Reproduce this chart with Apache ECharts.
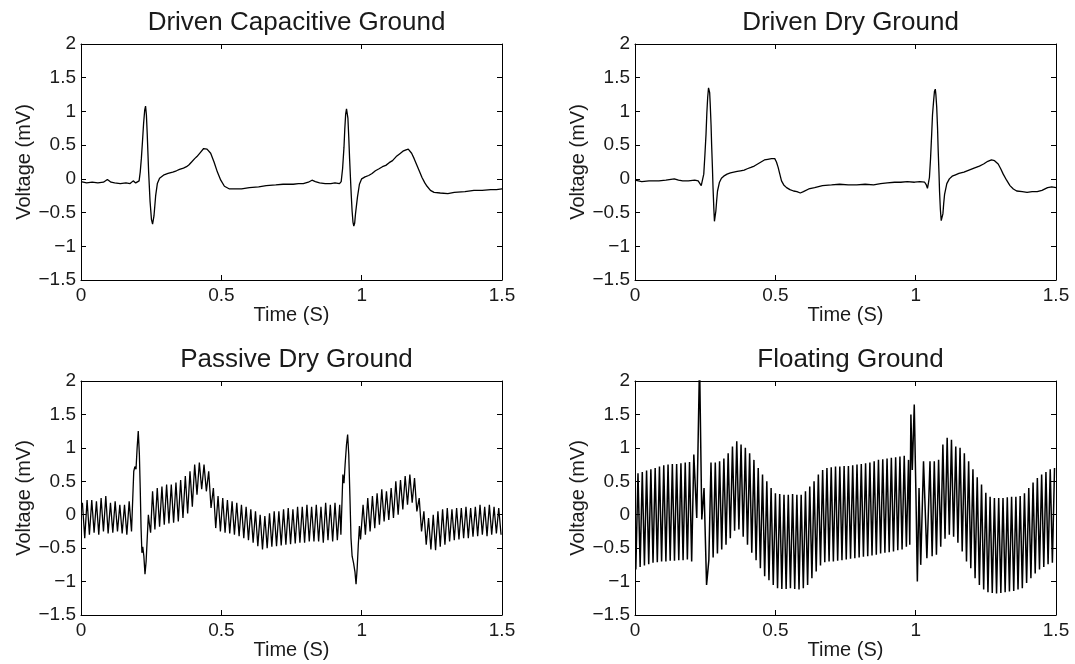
<!DOCTYPE html>
<html>
<head>
<meta charset="utf-8">
<script src="https://cdn.jsdelivr.net/npm/echarts@6/dist/echarts.min.js"></script>
<style>
html, body { margin: 0; padding: 0; background: #fff; }
#chart { width: 1075px; height: 664px; }
</style>
</head>
<body>
<div id="chart"></div>
<script>
// x ticks and y ticks shared by all four panels
var timeTicks = [0, 0.5, 1, 1.5]
var voltTicks = [-1.5, -1, -0.5, 0, 0.5, 1, 1.5, 2]

// Driven Capacitive Ground, [time s, voltage mV]
var drivenCap = [
  [0,-0.04],[0.02,-0.06],[0.04,-0.05],[0.06,-0.06],[0.08,-0.05],[0.094,-0.01],[0.107,-0.05],[0.12,-0.06],
  [0.14,-0.07],[0.16,-0.06],[0.175,-0.07],[0.186,-0.03],[0.195,-0.06],[0.202,-0.07],[0.207,-0.03],[0.211,0.10],
  [0.215,0.30],[0.219,0.55],[0.223,0.82],[0.227,1.02],[0.230,1.08],[0.233,0.95],[0.236,0.66],[0.241,0.10],
  [0.246,-0.33],[0.251,-0.60],[0.255,-0.67],[0.260,-0.55],[0.266,-0.25],[0.272,-0.07],[0.280,0.01],[0.296,0.06],
  [0.31,0.08],[0.327,0.10],[0.34,0.12],[0.351,0.14],[0.365,0.16],[0.376,0.18],[0.385,0.21],[0.394,0.25],
  [0.405,0.30],[0.413,0.33],[0.425,0.39],[0.437,0.45],[0.449,0.44],[0.455,0.43],[0.462,0.38],[0.474,0.25],
  [0.486,0.10],[0.498,-0.02],[0.511,-0.11],[0.529,-0.15],[0.55,-0.15],[0.572,-0.15],[0.6,-0.13],[0.633,-0.12],
  [0.66,-0.10],[0.694,-0.09],[0.72,-0.08],[0.756,-0.08],[0.775,-0.07],[0.792,-0.07],[0.81,-0.05],[0.823,-0.02],
  [0.835,-0.04],[0.85,-0.06],[0.87,-0.07],[0.89,-0.07],[0.905,-0.06],[0.921,-0.07],[0.927,-0.04],[0.932,0.15],
  [0.937,0.47],[0.940,0.75],[0.943,0.96],[0.946,1.04],[0.948,1.05],[0.951,0.90],[0.954,0.62],[0.957,0.30],
  [0.960,0.02],[0.963,-0.25],[0.966,-0.48],[0.969,-0.64],[0.972,-0.70],[0.975,-0.66],[0.978,-0.52],[0.985,-0.27],
  [0.992,-0.08],[1.0,0.0],[1.012,0.03],[1.025,0.05],[1.037,0.08],[1.049,0.12],[1.062,0.15],[1.074,0.18],
  [1.086,0.20],[1.098,0.24],[1.11,0.27],[1.123,0.33],[1.135,0.37],[1.147,0.41],[1.158,0.43],[1.166,0.44],
  [1.172,0.42],[1.178,0.38],[1.187,0.30],[1.196,0.21],[1.205,0.12],[1.215,0.02],[1.225,-0.06],[1.233,-0.11],
  [1.245,-0.17],[1.258,-0.20],[1.28,-0.21],[1.307,-0.22],[1.33,-0.20],[1.368,-0.19],[1.4,-0.17],[1.429,-0.17],
  [1.46,-0.16],[1.48,-0.16],[1.5,-0.15]
]

// Driven Dry Ground
var drivenDry = [
  [0,-0.02],[0.024,-0.04],[0.05,-0.03],[0.085,-0.03],[0.11,-0.02],[0.14,0.0],[0.155,-0.02],[0.17,-0.03],
  [0.19,-0.03],[0.213,-0.02],[0.225,-0.03],[0.231,-0.05],[0.236,-0.10],[0.240,-0.08],[0.245,0.07],[0.249,0.35],
  [0.253,0.66],[0.256,0.98],[0.259,1.21],[0.262,1.35],[0.264,1.37],[0.266,1.28],[0.268,1.11],[0.271,0.80],
  [0.273,0.51],[0.276,0.15],[0.278,-0.13],[0.281,-0.45],[0.283,-0.63],[0.285,-0.64],[0.288,-0.48],[0.291,-0.32],
  [0.294,-0.18],[0.301,-0.05],[0.308,0.01],[0.316,0.04],[0.328,0.07],[0.340,0.09],[0.352,0.10],[0.364,0.11],
  [0.376,0.12],[0.389,0.13],[0.40,0.15],[0.413,0.17],[0.425,0.19],[0.437,0.22],[0.449,0.25],[0.461,0.28],
  [0.473,0.29],[0.486,0.30],[0.498,0.30],[0.504,0.25],[0.510,0.17],[0.516,0.07],[0.522,-0.03],[0.530,-0.09],
  [0.540,-0.13],[0.552,-0.16],[0.565,-0.18],[0.577,-0.19],[0.589,-0.21],[0.60,-0.19],[0.619,-0.15],[0.64,-0.13],
  [0.668,-0.10],[0.70,-0.09],[0.729,-0.08],[0.76,-0.09],[0.79,-0.09],[0.82,-0.08],[0.85,-0.09],[0.875,-0.07],
  [0.899,-0.06],[0.925,-0.05],[0.947,-0.05],[0.97,-0.04],[0.996,-0.05],[1.015,-0.04],[1.032,-0.05],[1.038,-0.09],
  [1.042,-0.14],[1.046,-0.05],[1.049,0.02],[1.053,0.30],[1.057,0.66],[1.060,0.95],[1.064,1.16],[1.067,1.30],
  [1.070,1.33],[1.072,1.25],[1.075,1.06],[1.078,0.75],[1.080,0.45],[1.083,0.10],[1.085,-0.18],[1.088,-0.45],
  [1.091,-0.62],[1.094,-0.63],[1.097,-0.52],[1.100,-0.36],[1.103,-0.23],[1.111,-0.07],[1.120,0.0],[1.130,0.04],
  [1.142,0.06],[1.154,0.08],[1.172,0.10],[1.190,0.13],[1.208,0.16],[1.227,0.19],[1.242,0.22],[1.257,0.26],
  [1.270,0.28],[1.281,0.27],[1.288,0.25],[1.294,0.22],[1.303,0.15],[1.312,0.07],[1.324,-0.02],[1.336,-0.10],
  [1.348,-0.15],[1.360,-0.18],[1.38,-0.19],[1.397,-0.20],[1.415,-0.19],[1.433,-0.19],[1.45,-0.17],[1.47,-0.13],
  [1.485,-0.12],[1.5,-0.13]
]

// Passive Dry Ground: 60 Hz hum, one peak and one trough per cycle (null = inside a QRS burst)
var passiveStart = 0.005
var passivePeriod = 1 / 60
var passiveHi = [
  0.18,0.22,0.22,0.20,0.25,0.28,0.18,0.20,0.15,0.15,0.20,
  null,null,null,null,
  0.35,0.40,0.42,0.45,0.45,0.48,0.52,0.58,0.65,0.75,0.78,0.75,0.65,0.40,0.28,0.25,0.22,0.20,0.18,0.15,
  0.12,0.08,0.05,0.00,-0.02,0.02,0.05,0.05,0.08,0.10,0.08,0.12,0.12,0.15,0.12,0.15,0.12,0.18,0.15,0.18,0.15,
  null,null,null,null,
  0.15,0.25,0.28,0.32,0.38,0.35,0.40,0.50,0.52,0.58,0.60,0.55,0.25,0.05,-0.05,0.00,0.05,0.08,0.10,0.08,
  0.10,0.10,0.12,0.10,0.12,0.15,0.12,0.15,0.12,0.10
]
var passiveLo = [
  -0.35,-0.30,-0.27,-0.30,-0.25,-0.28,-0.27,-0.25,-0.28,-0.30,
  null,null,null,null,null,
  -0.22,-0.18,-0.15,-0.13,-0.12,-0.10,-0.05,0.02,0.12,0.30,0.38,0.35,0.10,-0.20,-0.25,-0.27,-0.28,-0.30,
  -0.32,-0.35,-0.38,-0.42,-0.47,-0.52,-0.50,-0.48,-0.47,-0.46,-0.45,-0.44,-0.43,-0.42,-0.42,-0.40,-0.40,
  -0.40,-0.42,-0.38,-0.40,-0.38,
  null,null,null,null,null,
  -0.30,-0.25,-0.20,-0.15,-0.10,-0.08,-0.05,0.00,0.08,0.15,0.18,0.05,-0.25,-0.45,-0.52,-0.53,-0.48,-0.45,
  -0.40,-0.38,-0.37,-0.35,-0.35,-0.33,-0.32,-0.30,-0.32,-0.30,-0.28,-0.30
]
var passiveQrs1 = [
  [0.180,-0.25],[0.184,0.20],[0.188,0.65],[0.192,0.72],[0.196,0.68],[0.200,1.00],[0.204,1.25],[0.208,0.90],
  [0.211,0.40],[0.214,-0.20],[0.217,-0.57],[0.220,-0.48],[0.224,-0.62],[0.228,-0.89],[0.232,-0.70],[0.236,-0.35],
  [0.240,0.00],[0.244,-0.15],[0.248,-0.27]
]
var passiveQrs2 = [
  [0.926,-0.30],[0.930,0.20],[0.933,0.60],[0.937,0.47],[0.941,0.75],[0.946,1.05],[0.950,1.20],[0.954,0.90],
  [0.958,0.30],[0.962,-0.35],[0.966,-0.62],[0.971,-0.72],[0.976,-0.85],[0.980,-1.04],[0.984,-0.80],[0.988,-0.45],
  [0.992,-0.17],[0.996,-0.37]
]

// Floating Ground: large hum, trough then peak per cycle
var floatStart = 0.003
var floatPeriod = 0.0153
var floatLo = [
  -0.82,-0.78,-0.76,-0.74,-0.72,-0.71,-0.70,-0.70,-0.69,-0.69,-0.68,-0.68,-0.67,-0.70,
  null,null,null,
  -0.68,-0.64,-0.58,-0.52,-0.45,-0.35,-0.24,-0.22,-0.33,-0.45,-0.57,-0.68,-0.80,-0.92,-0.98,-1.05,-1.10,
  -1.11,-1.11,-1.10,-1.11,-1.12,-1.10,-1.05,-0.95,-0.85,-0.76,-0.71,-0.70,-0.70,-0.69,-0.68,-0.67,-0.66,
  -0.65,-0.64,-0.63,-0.62,-0.61,-0.60,-0.58,-0.57,-0.56,-0.55,-0.53,-0.52,-0.48,
  null,null,null,null,null,
  -0.62,-0.60,-0.48,-0.36,-0.30,-0.33,-0.42,-0.55,-0.70,-0.80,-0.95,-1.05,-1.12,-1.16,-1.17,-1.18,-1.17,
  -1.16,-1.15,-1.14,-1.12,-1.10,-1.02,-0.95,-0.88,-0.82,-0.78,-0.74,-0.72
]
var floatHi = [
  0.62,0.64,0.66,0.68,0.70,0.72,0.74,0.75,0.76,0.76,0.77,0.78,0.79,0.90,
  null,null,null,
  0.78,0.78,0.80,0.84,0.92,1.02,1.10,1.05,1.00,0.92,0.82,0.70,0.60,0.50,0.40,0.32,0.31,0.30,0.30,0.31,
  0.30,0.30,0.35,0.42,0.50,0.60,0.67,0.70,0.71,0.72,0.72,0.73,0.73,0.74,0.75,0.76,0.77,0.78,0.80,0.82,
  0.83,0.84,0.85,0.86,0.87,0.88,0.82,
  null,null,null,null,
  0.80,
  0.80,0.82,1.05,1.15,1.12,1.02,1.00,0.92,0.80,0.68,0.56,0.45,0.33,0.27,0.25,0.25,0.25,0.26,0.27,0.27,
  0.28,0.32,0.40,0.48,0.55,0.60,0.64,0.68,0.70
]
var floatBurst1 = [
  [0.220,-0.05],[0.230,2.30],[0.238,-0.07],[0.246,0.40],[0.255,-1.05]
]
var floatBurst2 = [
  [0.979,-0.45],[0.983,1.50],[0.988,0.67],[0.995,1.65],[1.001,0.30],[1.006,-1.00],[1.012,0.40],[1.018,-0.75],
  [1.028,0.80],[1.040,-0.65]
]

function humSeries(start, period, first, second, bursts) {
  var pts = []
  for (var k = 0; k < first.length; k++) {
    var t = start + k * period
    if (first[k] !== null) pts.push([t, first[k]])
    if (second[k] !== null) pts.push([t + period / 2, second[k]])
  }
  bursts.forEach(function (b) { pts = pts.concat(b) })
  pts.sort(function (a, b) { return a[0] - b[0] })
  return pts
}

var passiveDry = humSeries(passiveStart, passivePeriod, passiveHi, passiveLo, [passiveQrs1, passiveQrs2])
var floating = humSeries(floatStart, floatPeriod, floatLo, floatHi, [floatBurst1, floatBurst2])

var font = "'Liberation Sans', Arial, Helvetica, sans-serif"
var ink = '#1a1a1a'

var panels = [
  { title: 'Driven Capacitive Ground', data: drivenCap, left: 81, top: 44, height: 236, titleTop: 5, lw: 1.3 },
  { title: 'Driven Dry Ground', data: drivenDry, left: 635, top: 44, height: 236, titleTop: 5, lw: 1.3 },
  { title: 'Passive Dry Ground', data: passiveDry, left: 81, top: 381, height: 234, titleTop: 342, lw: 1.3 },
  { title: 'Floating Ground', data: floating, left: 635, top: 381, height: 234, titleTop: 342, lw: 1.5 }
]
var plotWidth = 421

function minus(v) { return String(v).replace('-', '\u2212') }

var option = { animation: false, backgroundColor: '#fff', title: [], grid: [], xAxis: [], yAxis: [], series: [] }

panels.forEach(function (p, i) {
  option.title.push({
    text: p.title, left: p.left + plotWidth / 2, top: p.titleTop, textAlign: 'center',
    textStyle: { fontFamily: font, fontSize: 26, fontWeight: 'normal', color: ink }
  })
  option.grid.push({ left: p.left, top: p.top, width: plotWidth, height: p.height })
  var line = { onZero: false, lineStyle: { color: '#000', width: 1 } }
  var tick = { inside: true, length: 5, lineStyle: { color: '#000' } }
  option.xAxis.push({
    type: 'value', gridIndex: i, position: 'bottom', min: timeTicks[0], max: timeTicks[timeTicks.length - 1],
    interval: timeTicks[1] - timeTicks[0], axisLine: line, axisTick: tick, splitLine: { show: false },
    axisLabel: { color: ink, fontFamily: font, fontSize: 19, margin: 6 },
    name: 'Time (S)', nameLocation: 'middle', nameGap: 23,
    nameTextStyle: { color: ink, fontFamily: font, fontSize: 20 }
  })
  option.xAxis.push({
    type: 'value', gridIndex: i, position: 'top', min: timeTicks[0], max: timeTicks[timeTicks.length - 1],
    interval: timeTicks[1] - timeTicks[0], axisLine: line, axisTick: tick, splitLine: { show: false },
    axisLabel: { show: false }
  })
  option.yAxis.push({
    type: 'value', gridIndex: i, position: 'left', min: voltTicks[0], max: voltTicks[voltTicks.length - 1],
    interval: voltTicks[1] - voltTicks[0], axisLine: line, axisTick: tick, splitLine: { show: false },
    axisLabel: { color: ink, fontFamily: font, fontSize: 19, margin: 5, formatter: minus },
    name: 'Voltage (mV)', nameLocation: 'middle', nameGap: 47,
    nameTextStyle: { color: ink, fontFamily: font, fontSize: 20 }
  })
  option.yAxis.push({
    type: 'value', gridIndex: i, position: 'right', min: voltTicks[0], max: voltTicks[voltTicks.length - 1],
    interval: voltTicks[1] - voltTicks[0], axisLine: line, axisTick: tick, splitLine: { show: false },
    axisLabel: { show: false }
  })
  option.series.push({
    type: 'line', xAxisIndex: i * 2, yAxisIndex: i * 2, data: p.data, showSymbol: false,
    clip: true, lineStyle: { color: '#000', width: p.lw }
  })
})

var myChart = echarts.init(document.getElementById('chart'))
myChart.setOption(option)
</script>
</body>
</html>
